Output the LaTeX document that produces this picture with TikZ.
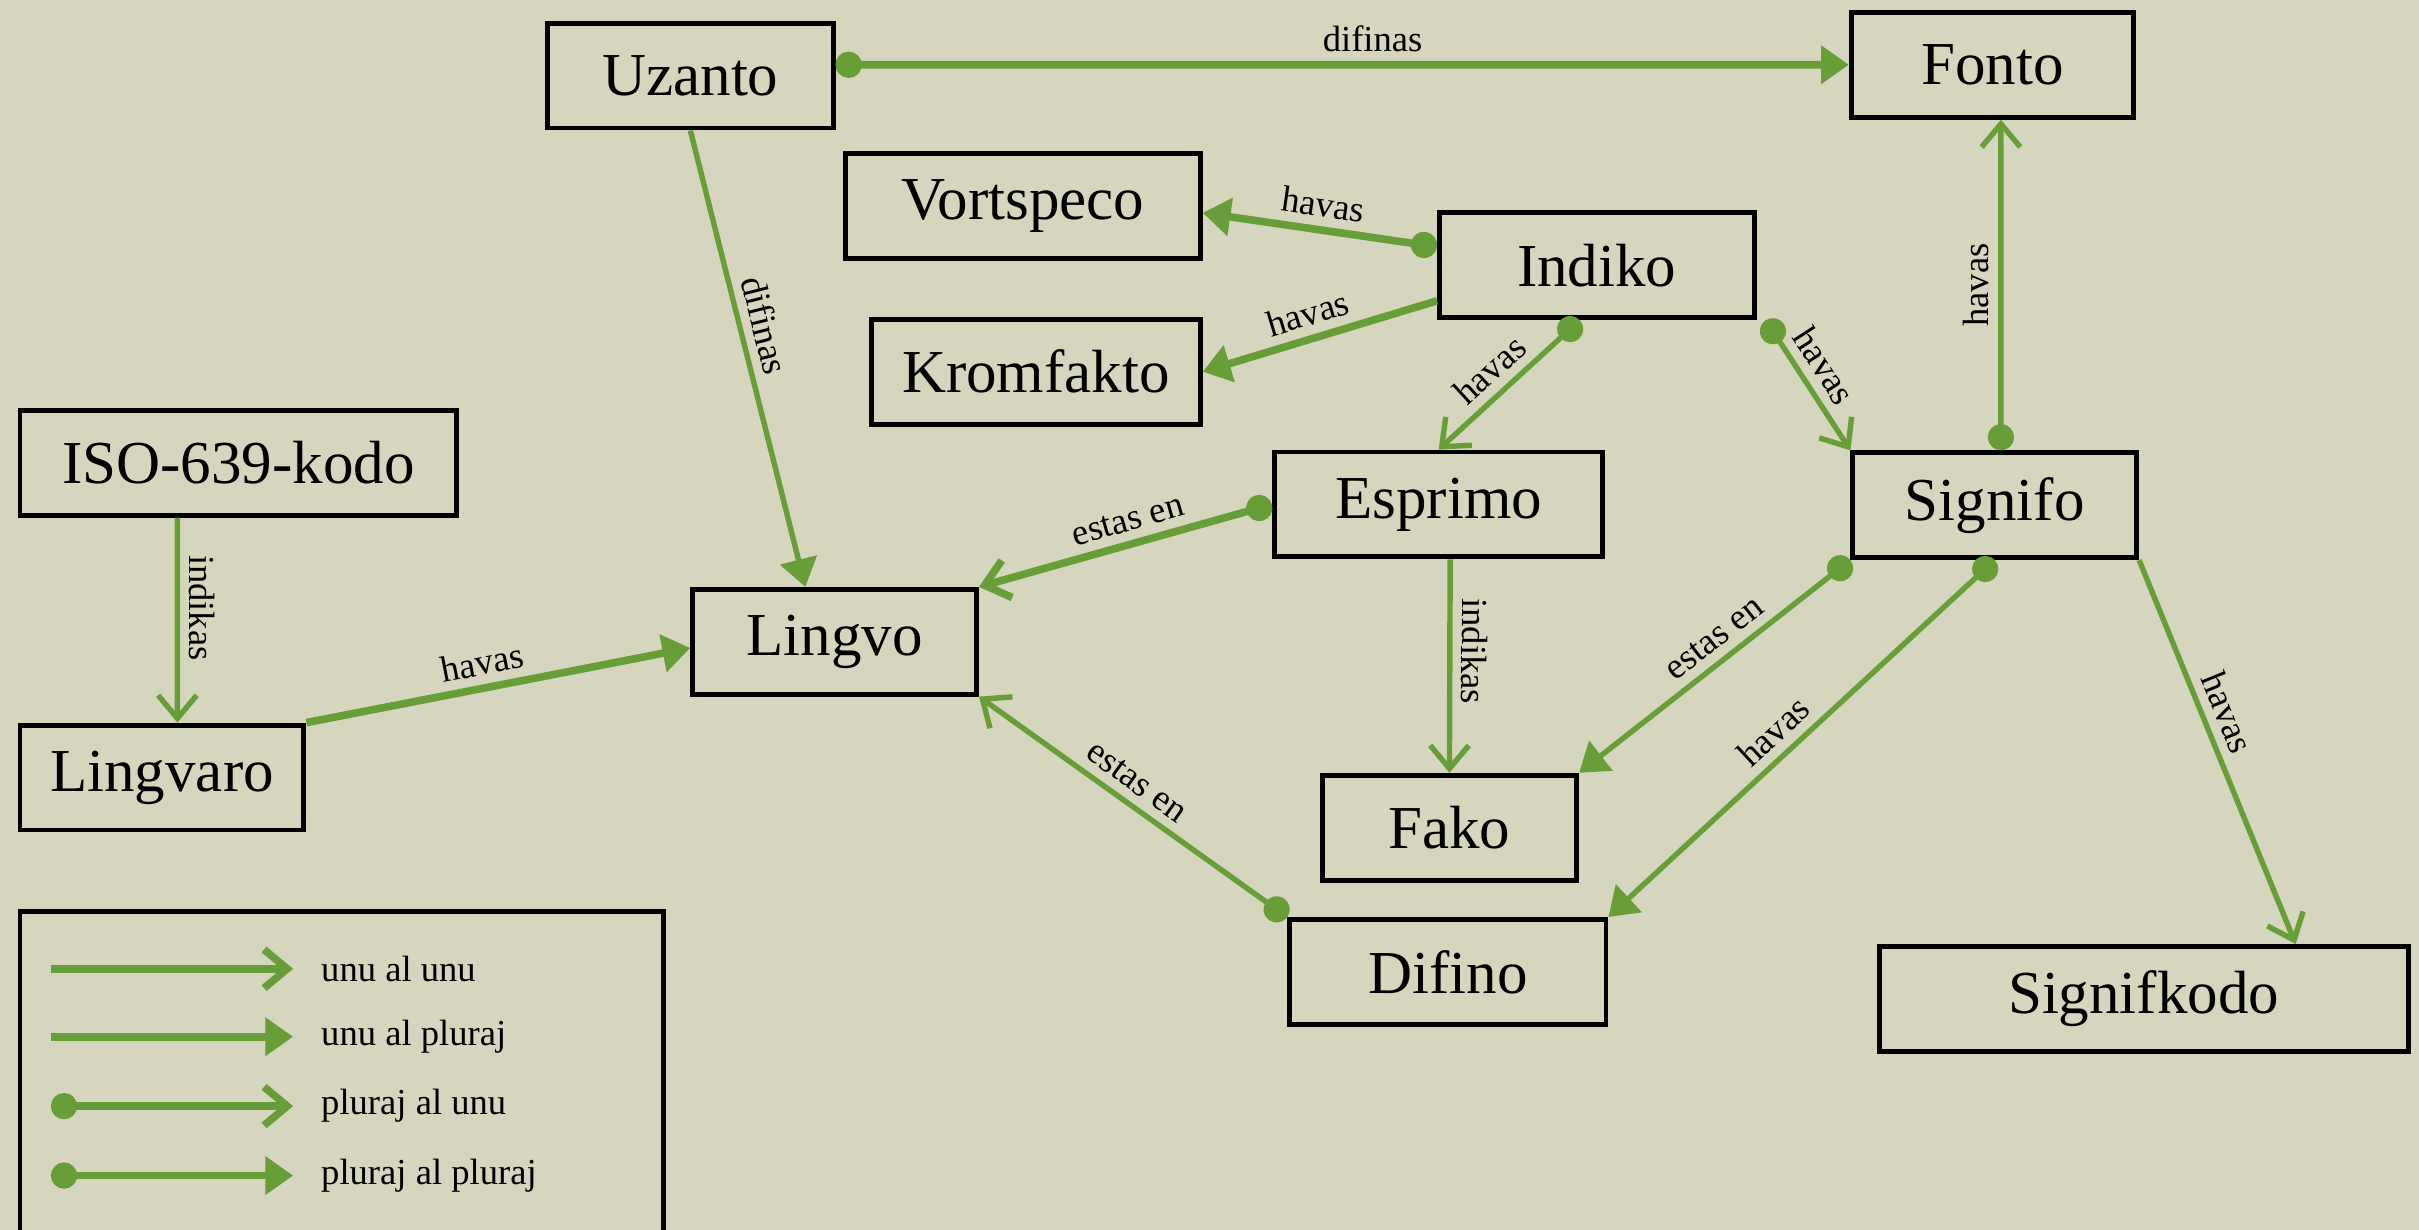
\documentclass[tikz,border=0pt]{standalone}
\usepackage{fontspec}
\setmainfont{Liberation Serif}
\usetikzlibrary{positioning,calc,arrows.meta}
\definecolor{papero}{RGB}{214,213,189}
\definecolor{verda}{RGB}{104,158,56}

\begin{document}
\begin{tikzpicture}[
    ento/.style={draw, line width=1.8pt, minimum height=1.36cm,
      font=\fontsize{22.5}{25}\selectfont},
    rel/.style={draw=verda, line width=2pt},
    dika/.style={line width=2.8pt},
    lbl/.style={font=\fontsize{13.5}{15}\selectfont, sloped, above},
    unuunu/.style={-{Straight Barb[length=0.3cm,width=0.5cm]}},
    unupluraj/.style={-{Triangle[length=0.36cm,width=0.48cm]}},
    plurajunu/.style={{Circle[length=0.34cm]}-{Straight Barb[length=0.3cm,width=0.5cm]}},
    plurajpluraj/.style={{Circle[length=0.34cm]}-{Triangle[length=0.36cm,width=0.48cm]}}
]
      \useasboundingbox (0,0) rectangle (31.36,15.94);
      \fill [papero] (0,0) rectangle (31.36,15.94);

      % entoj
      \node [ento, minimum width=3.70cm] (uzanto) at (8.95,14.96) {Uzanto};
      \node [ento, minimum width=3.66cm] (fonto) at (25.83,15.10) {Fonto};
      \node [ento, minimum width=4.60cm] (vortspeco) at (13.26,13.27) {Vortspeco};
      \node [ento, minimum width=4.08cm] (indiko) at (20.70,12.50) {Indiko};
      \node [ento, minimum width=4.26cm] (kromfakto) at (13.43,11.12) {Kromfakto};
      \node [ento, minimum width=5.66cm] (iso) at (3.09,9.94) {ISO-639-kodo};
      \node [ento, minimum width=4.26cm] (esprimo) at (18.65,9.40) {Esprimo};
      \node [ento, minimum width=3.68cm] (signifo) at (25.86,9.39) {Signifo};
      \node [ento, minimum width=3.68cm] (lingvo) at (10.82,7.62) {Lingvo};
      \node [ento, minimum width=3.68cm] (lingvaro) at (2.10,5.86) {Lingvaro};
      \node [ento, minimum width=3.30cm] (fako) at (18.79,5.21) {Fako};
      \node [ento, minimum width=4.10cm] (difino) at (18.77,3.34) {Difino};
      \node [ento, minimum width=6.86cm] (signifkodo) at (27.79,2.99) {Signifkodo};

      % rilatoj
      \draw [rel,dika,plurajpluraj] ($(uzanto.east)+(0,0.14)$) -- (fonto.west)
        node [lbl,pos=0.53] {difinas};
      \draw [rel,unupluraj] (uzanto.south) -- ($(lingvo.north)+(-0.38,0)$)
        node [lbl,pos=0.44] {difinas};
      \draw [rel,dika,plurajpluraj] ($(indiko.west)+(0,0.24)$) -- ($(vortspeco.east)+(0,-0.09)$)
        node [lbl,pos=0.5] {havas};
      \draw [rel,dika,unupluraj] ($(indiko.west)+(0,-0.46)$) -- (kromfakto.east)
        node [lbl,pos=0.52] {havas};
      \draw [rel,plurajunu] ($(indiko.south)+(-0.22,0)$) -- (esprimo.north)
        node [lbl,pos=0.52] {havas};
      \draw [rel,plurajunu] ($(indiko.south east)+(0.12,0)$) -- (signifo.north west)
        node [lbl,pos=0.45] {havas};
      \draw [rel,plurajunu] ($(signifo.north)+(0.08,0)$) -- ($(fonto.south)+(0.11,0)$)
        node [lbl,allow upside down,pos=0.5] {havas};
      \draw [rel,unuunu] ($(iso.south)+(-0.79,0)$) -- ($(lingvaro.north)+(0.2,0)$)
        node [lbl,allow upside down,pos=0.44] {indikas};
      \draw [rel,dika,unupluraj] (lingvaro.north east) -- ($(lingvo.west)+(0,-0.08)$)
        node [lbl,pos=0.47] {havas};
      \draw [rel,dika,plurajunu] (esprimo.west) -- (lingvo.north east)
        node [lbl,pos=0.47] {estas en};
      \draw [rel,plurajunu] (difino.north west) -- (lingvo.south east)
        node [lbl,pos=0.53] {estas en};
      \draw [rel,unuunu] ($(esprimo.south)+(0.15,0)$) -- (fako.north)
        node [lbl,allow upside down,pos=0.43] {indikas};
      \draw [rel,plurajpluraj] (signifo.south west) -- (fako.north east)
        node [lbl,pos=0.45] {estas en};
      \draw [rel,plurajpluraj] (signifo.south) -- (difino.north east)
        node [lbl,pos=0.53] {havas};
      \draw [rel,unuunu] (signifo.south east) -- ($(signifkodo.north)+(1.97,0)$)
        node [lbl,pos=0.42] {havas};

      % klarigo
      \draw [line width=1.8pt] (0.26,-0.3) rectangle (8.6,4.12);
      \node [anchor=west,font=\fontsize{13.5}{15}\selectfont] (t1) at (4.04,3.38) {unu al unu};
      \node [anchor=west,font=\fontsize{13.5}{15}\selectfont] (t2) at (4.04,2.50) {unu al pluraj};
      \node [anchor=west,font=\fontsize{13.5}{15}\selectfont] (t3) at (4.04,1.60) {pluraj al unu};
      \node [anchor=west,font=\fontsize{13.5}{15}\selectfont] (t4) at (4.04,0.70) {pluraj al pluraj};
      \coordinate (k1) at (0.66,3.38);
      \coordinate (k2) at (0.66,2.50);
      \coordinate (k3) at (0.66,1.60);
      \coordinate (k4) at (0.66,0.70);
      \draw [rel,dika,unuunu,shorten >=0.24cm] (k1) -- (t1);
      \draw [rel,dika,unupluraj,shorten >=0.24cm] (k2) -- (t2);
      \draw [rel,dika,plurajunu,shorten >=0.24cm] (k3) -- (t3);
      \draw [rel,dika,plurajpluraj,shorten >=0.24cm] (k4) -- (t4);

    \end{tikzpicture}
\end{document}
